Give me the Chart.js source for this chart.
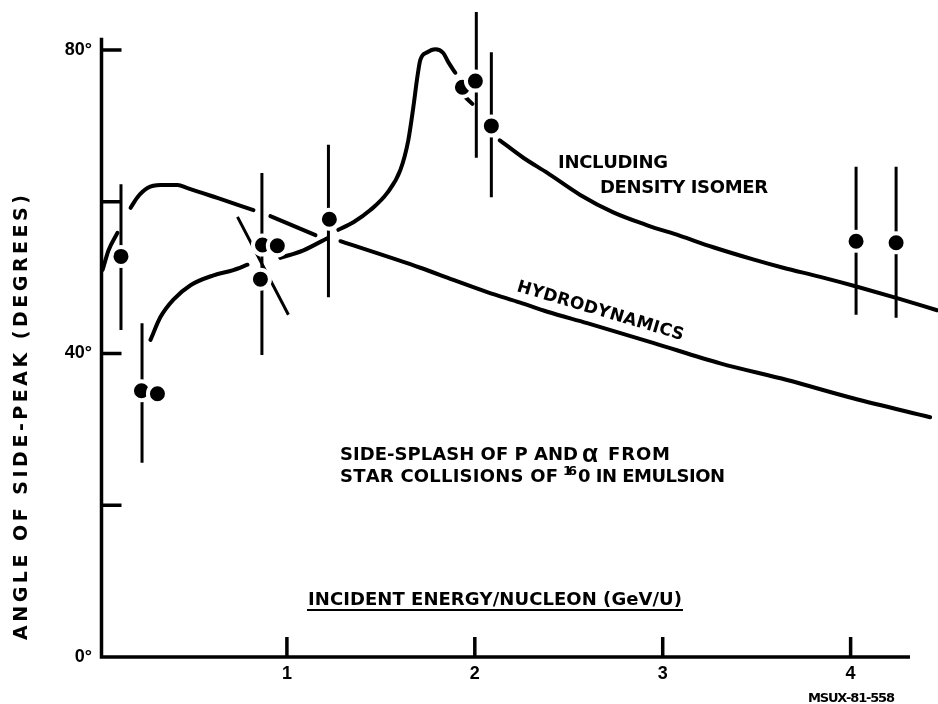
<!DOCTYPE html>
<html><head><meta charset="utf-8">
<script src="https://cdn.jsdelivr.net/npm/chart.js@4.4.1/dist/chart.umd.min.js"></script>
<style>html,body{margin:0;padding:0;background:#fff}#wrap{width:938px;height:704px;position:relative}</style>
</head><body><div id="wrap"><canvas id="c"></canvas></div>
<script>
// ---- data ----
const xTicks = [1, 2, 3, 4];
const yTicks = [0, 20, 40, 60, 80];
const yTickLabels = ['0°', '', '40°', '', '80°'];

// measured side-peak angles (dots)
const dataX = [0.117, 0.226, 0.311, 0.870, 0.949, 0.859, 1.226, 1.934, 2.003, 2.088, 4.029, 4.242];
const dataY = [52.8, 35.1, 34.7, 54.3, 54.2, 49.8, 57.7, 75.1, 75.9, 70.0, 54.8, 54.6];

// vertical error bars
const barX    = [0.117, 0.229, 0.867, 1.221, 2.008, 2.088, 4.029, 4.242];
const barLow  = [43.1, 25.6, 39.8, 47.4, 65.8, 60.6, 45.1, 44.7];
const barHigh = [62.3, 44.0, 63.8, 67.5, 85.0, 79.7, 64.6, 64.6];

// slanted error bar near 0.9 GeV/U
const slantX = [0.737, 1.008];
const slantY = [58.0, 45.1];

// "including density isomer" curve (null = break in the drawn line)
const isomerX = [0.019, 0.051, 0.098, null,
  0.274, 0.327, 0.396, 0.487, 0.609, 0.715, 0.790, null,
  0.965, 1.088, 1.215, null,
  1.274, 1.354, 1.444, 1.535, 1.604, 1.646, 1.673, 1.694, 1.710, 1.747, 1.790, 1.832, 1.859, 1.896, null,
  1.949, 1.987, null,
  2.133, 2.258, 2.386, 2.561, 2.737, 2.918, 3.093, 3.269, 3.481, 3.641, 3.838, 4.035, 4.247, 4.460];
const isomerY = [51.0, 53.6, 55.9, null,
  41.8, 44.8, 47.1, 49.0, 50.3, 51.0, 51.7, null,
  52.6, 53.6, 55.2, null,
  56.3, 57.3, 58.9, 61.2, 64.2, 68.1, 72.5, 76.4, 78.7, 79.7, 80.1, 79.6, 78.4, 77.0, null,
  73.8, 72.9, null,
  68.1, 65.8, 63.8, 60.9, 58.6, 56.9, 55.5, 54.0, 52.4, 51.3, 50.1, 48.8, 47.3, 45.7];

// "hydrodynamics" curve
const hydroX = [0.168, 0.205, 0.258, 0.327, 0.418, 0.471, 0.630, 0.822, null,
  0.912, 1.152, null,
  1.285, 1.710, 1.886, 2.066, 2.242, 2.386, 2.598, 2.949, 3.306, 3.662, 4.013, 4.423];
const hydroY = [59.2, 60.6, 61.8, 62.2, 62.2, 61.8, 60.5, 58.9, null,
  58.1, 55.6, null,
  54.8, 51.3, 49.7, 48.1, 46.7, 45.5, 44.0, 41.4, 38.7, 36.5, 34.1, 31.6];

const yAxisTop = 81.6;
const xAxisEnd = 4.316;

// ---- build datasets ----
const pts = (xs, ys) => xs.map((x, i) => ({x: x, y: ys[i]}));
const barPts = [];
barX.forEach((x, i) => { barPts.push({x: x, y: barLow[i]}, {x: x, y: barHigh[i]}, {x: null, y: null}); });

const FONT = '"DejaVu Sans", Verdana, sans-serif';
const TFONT = '"Liberation Sans", Arial, Helvetica, sans-serif';

function spacedWidth(ctx, text, sp) { let w = 0; for (const ch of text) w += ctx.measureText(ch).width + sp; return w - sp; }
function drawFit(ctx, text, x, y, width) {
  const n = [...text].length;
  const natural = spacedWidth(ctx, text, 0);
  const sp = n > 1 ? (width - natural) / (n - 1) : 0;
  for (const ch of text) { ctx.fillText(ch, x, y); x += ctx.measureText(ch).width + sp; }
  return x;
}

const deco = {
  id: 'deco',
  beforeDatasetsDraw(chart) {
    const {ctx, scales: {x, y}} = chart;
    const x0 = x.getPixelForValue(0) + 2.5, y0 = y.getPixelForValue(0);
    ctx.save();
    ctx.strokeStyle = '#000'; ctx.lineWidth = 3.5; ctx.lineCap = 'butt';
    ctx.beginPath();
    ctx.moveTo(x0, y.getPixelForValue(yAxisTop));
    ctx.lineTo(x0, y0 + 1.75);
    ctx.moveTo(x0 - 1.75, y0);
    ctx.lineTo(x.getPixelForValue(xAxisEnd), y0);
    ctx.stroke();
    ctx.beginPath();
    yTicks.forEach(v => { if (v === 0) return; const p = y.getPixelForValue(v); ctx.moveTo(x0, p); ctx.lineTo(x0 + 20, p); });
    xTicks.forEach(v => { const p = x.getPixelForValue(v); ctx.moveTo(p, y0); ctx.lineTo(p, y0 - 20); });
    ctx.stroke();
    ctx.restore();
  },
  afterDraw(chart) {
    const {ctx} = chart;
    ctx.save();
    ctx.fillStyle = '#000';
    ctx.textBaseline = 'alphabetic';
    ctx.textAlign = 'left';
    // y axis title
    ctx.save();
    ctx.font = 'bold 19px ' + FONT;
    ctx.translate(27, 418);
    ctx.rotate(-Math.PI / 2);
    drawFit(ctx, 'ANGLE OF SIDE-PEAK (DEGREES)', -222, 0, 445);
    ctx.restore();
    // note
    ctx.font = 'bold 18px ' + FONT;
    drawFit(ctx, 'SIDE-SPLASH OF P AND', 340, 460, 238);
    ctx.font = 'bold 26px ' + TFONT;
    ctx.fillText('α', 582, 462);
    ctx.font = 'bold 18px ' + FONT;
    drawFit(ctx, 'FROM', 608, 460, 62);
    drawFit(ctx, 'STAR COLLISIONS OF', 340, 482, 218);
    ctx.font = 'bold 13px ' + FONT;
    drawFit(ctx, '16', 563, 475, 14);
    ctx.font = 'bold 18px ' + FONT;
    drawFit(ctx, '0 IN EMULSION', 578, 482, 147);
    // x title
    drawFit(ctx, 'INCIDENT ENERGY/NUCLEON (GeV/U)', 308, 605, 374);
    ctx.fillRect(307, 609, 376, 2);
    // curve labels
    drawFit(ctx, 'INCLUDING', 558, 168, 110);
    drawFit(ctx, 'DENSITY ISOMER', 600, 193, 168);
    ctx.save();
    ctx.translate(516, 291);
    ctx.rotate(16.5 * Math.PI / 180);
    ctx.font = 'bold 17px ' + FONT;
    drawFit(ctx, 'HYDRODYNAMICS', 0, 0, 173);
    ctx.restore();
    ctx.font = 'bold 13px ' + FONT;
    drawFit(ctx, 'MSUX-81-558', 808, 702, 87);
    ctx.restore();
  }
};

const curveStyle = {type: 'line', showLine: true, pointRadius: 0, borderColor: '#000', fill: false,
  borderCapStyle: 'round', borderJoinStyle: 'round', spanGaps: false, cubicInterpolationMode: 'monotone'};

new Chart(document.getElementById('c'), {
  type: 'scatter',
  data: {
    datasets: [
      {label: 'data', data: pts(dataX, dataY), showLine: false, pointRadius: 9.5,
        pointBackgroundColor: '#000', pointBorderColor: '#fff', pointBorderWidth: 4, pointHoverRadius: 9.5},
      Object.assign({label: 'errors', data: barPts, borderWidth: 3}, curveStyle, {cubicInterpolationMode: 'default', tension: 0, borderCapStyle: 'butt'}),
      Object.assign({label: 'slant', data: pts(slantX, slantY), borderWidth: 3}, curveStyle, {cubicInterpolationMode: 'default', tension: 0, borderCapStyle: 'butt'}),
      Object.assign({label: 'isomer', data: pts(isomerX, isomerY), borderWidth: 4}, curveStyle),
      Object.assign({label: 'hydro', data: pts(hydroX, hydroY), borderWidth: 4}, curveStyle)
    ]
  },
  options: {
    animation: false, responsive: true, maintainAspectRatio: false,
    layout: {padding: 0, autoPadding: false},
    plugins: {legend: {display: false}, tooltip: {enabled: false}},
    events: [],
    scales: {
      x: {type: 'linear', min: 0, max: 4.465,
        afterFit: s => { s.height = 47; s.paddingLeft = 0; s.paddingRight = 0; },
        afterBuildTicks: s => { s.ticks = xTicks.map(v => ({value: v})); },
        grid: {display: false, drawTicks: false}, border: {display: false},
        ticks: {autoSkip: false, maxRotation: 0, padding: 6, color: '#000', font: {family: TFONT, size: 18, weight: 'bold'}}},
      y: {type: 'linear', min: 0, max: 86.59,
        afterFit: s => { s.width = 99; s.paddingTop = 0; s.paddingBottom = 0; },
        afterBuildTicks: s => { s.ticks = yTicks.map(v => ({value: v})); },
        grid: {display: false, drawTicks: false}, border: {display: false},
        ticks: {autoSkip: false, padding: 7, color: '#000', font: {family: TFONT, size: 18, weight: 'bold'},
          callback: v => { const i = yTicks.indexOf(v); return i >= 0 ? yTickLabels[i] : ''; }}}
    }
  },
  plugins: [deco]
});
</script></body></html>
